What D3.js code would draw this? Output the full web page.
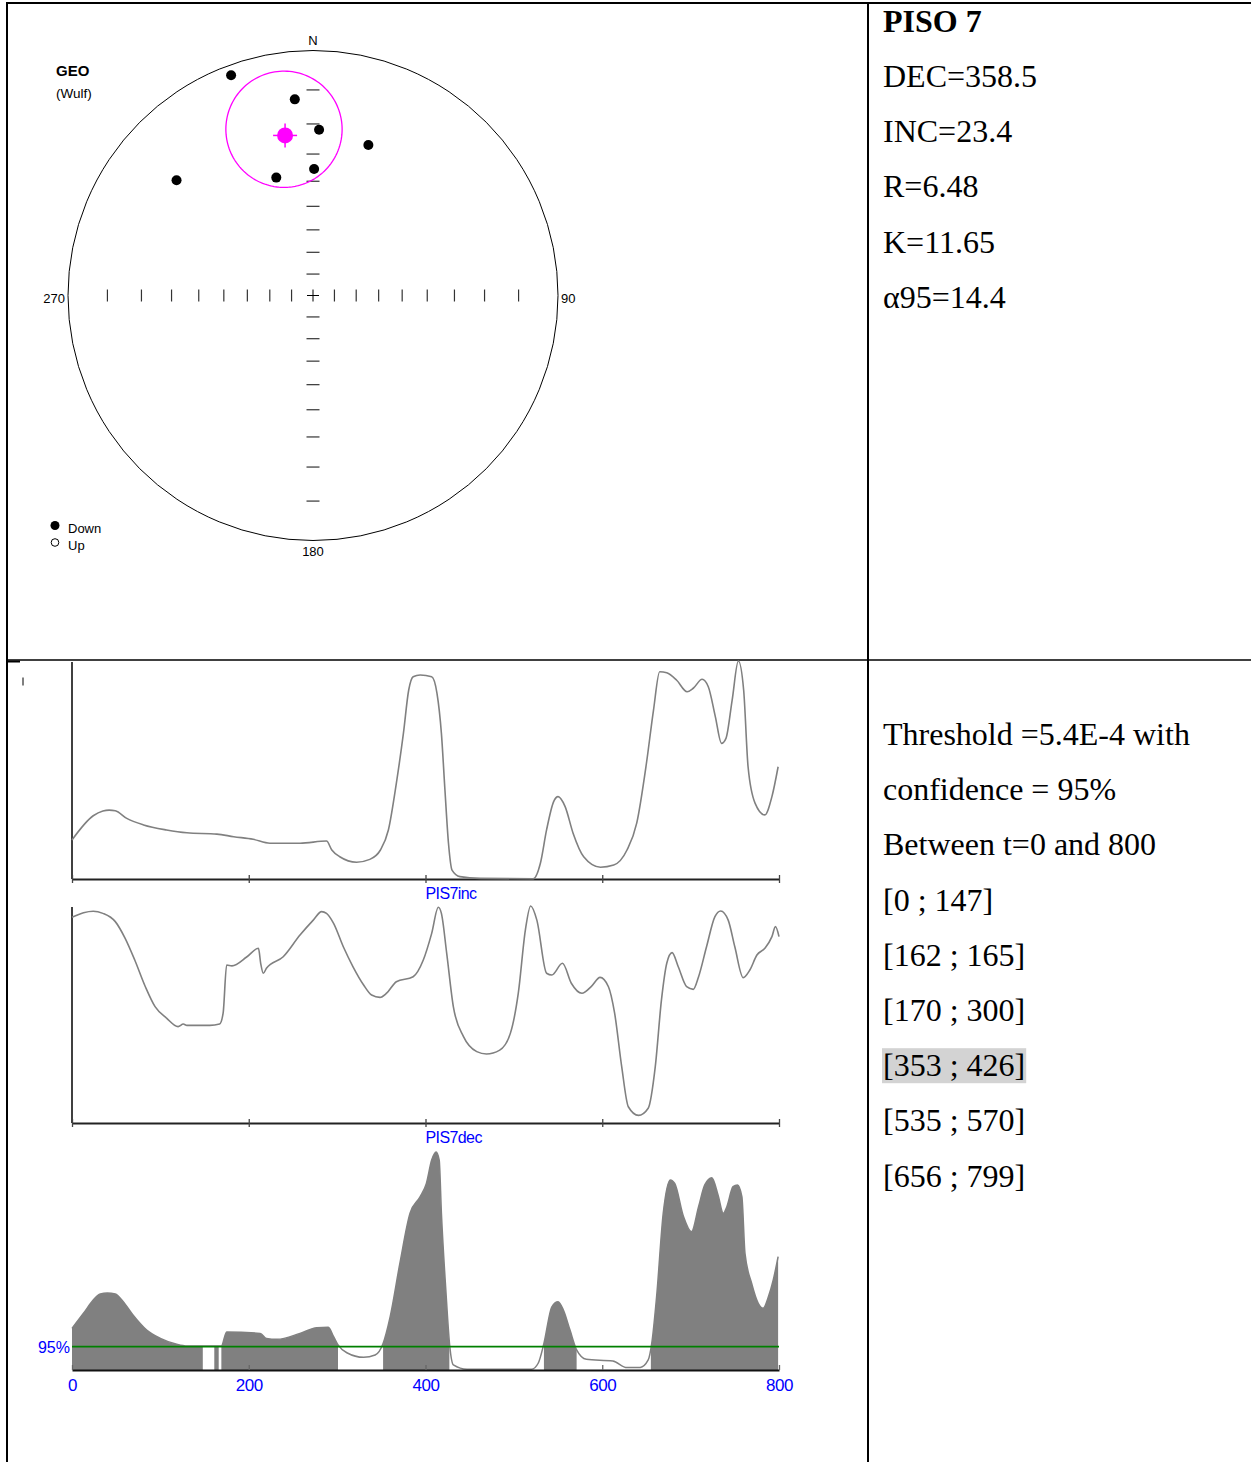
<!DOCTYPE html>
<html><head><meta charset="utf-8">
<script src="https://cdn.jsdelivr.net/npm/d3@7"></script>
<style>body{margin:0;background:#fff}svg{display:block}</style>
</head><body>
<svg id="chart" width="1251" height="1462"></svg>
<script>
// ---------------- DATA ----------------
const siteTitle = "PISO 7";
const statLines = ["DEC=358.5", "INC=23.4", "R=6.48", "K=11.65", "\u03b195=14.4"];
const thresholdLines = ["Threshold =5.4E-4 with", "confidence = 95%", "Between t=0 and 800"];
const intervals = [[0,147],[162,165],[170,300],[353,426],[535,570],[656,799]];
const highlightedInterval = 3;

// stereonet directions (declination / inclination, all "Down")
const dirDec = [339.6, 354.7, 2.1, 20.2, 310.2, 342.7, 0.5];
const dirInc = [2.4, 12.4, 21.8, 23.6, 17.8, 36.5, 35.4];
const meanDir = [350.1, 22.9];      // plotted mean
const meanCone = 18.5;              // plotted confidence cone (deg)
const incTicks = [10,20,30,40,50,60,70,80];
const netLabels = ["N", "90", "180", "270"];
const legendLabels = ["Down", "Up"];

// time series (t, value)
const incSeries = [[0,17.9],[24,29.0],[35,31.2],[42,31.6],[49,31.3],[62,27.8],[81,24.8],[107,22.5],[130,21.2],[164,20.6],[183,19.4],[205,18.2],[224,16.4],[258,16.4],[288,17.4],[294,13.3],[303,10.2],[322,7.7],[337,9.0],[349,13.3],[358,22.5],[367,43.9],[375,66.8],[381,86.7],[386,92.8],[394,93.6],[407,92.8],[413,85.2],[418,66.8],[422,40.8],[426,16.4],[430,4.1],[439,1.1],[462,0.3],[522,0.1],[530,7.2],[537,22.5],[545,35.5],[550,37.8],[558,33.2],[567,21.0],[579,10.2],[598,5.4],[613,6.4],[628,13.3],[639,25.6],[650,53.1],[658,77.5],[665,95.1],[673,94.6],[684,91.3],[696,85.9],[703,87.5],[713,91.6],[720,88.2],[728,74.4],[735,62.2],[740,64.5],[747,82.1],[754,100],[760,86.7],[765,51.5],[773,34.7],[784,29.4],[792,37.8],[799,51.5]];
const decSeries = [[0,94.8],[13,96.9],[24,97.6],[35,96.6],[49,92.8],[60,85.2],[71,75.1],[83,62.8],[94,53.6],[107,48.3],[120,44.4],[126,45.6],[130,45.0],[156,45.0],[167,45.6],[171,50.6],[175,72.8],[181,72.4],[198,76.6],[211,80.5],[213.5,73.6],[216.5,69.0],[220,71.3],[239,76.6],[258,86.6],[273,93.5],[282.5,97.4],[288,96.6],[296,92.0],[307,81.2],[318,72.0],[330,63.6],[339,59.0],[348.5,57.9],[356,59.8],[367,65.1],[386,67.4],[397.5,75.1],[407,87.4],[414.5,99.4],[418,96.6],[424,78.2],[431.5,53.6],[443,39.8],[458,32.9],[469,31.8],[484,33.6],[496,41.3],[505,59.8],[513,88.9],[519,100],[526,93.5],[537,69.0],[543,68.2],[555,73.6],[565,64.4],[577,59.8],[588,63.1],[597.5,67.1],[607,62.8],[614,50.6],[622,26.0],[629.5,7.5],[641,3.5],[652,6.8],[660,26.0],[667,56.7],[673,73.6],[679,78.5],[686,72.0],[695.5,62.8],[703,61.6],[709,67.4],[718,81.2],[727.5,95.1],[734,97.7],[742.5,93.5],[750,81.2],[759.5,67.0],[767,70.5],[775,77.4],[784,80.5],[792,85.9],[796,90.5],[800,85.9]];
const probSeries = [[0,19.1],[13,26.0],[24,32.1],[32,34.9],[40,35.3],[49,34.9],[58,31.3],[69,25.2],[84.5,18.3],[100,14.5],[118.5,11.8],[130,11.0],[160,11.0],[169,11.0],[175,17.4],[213,16.8],[220,14.5],[232,14.1],[258,16.8],[277,19.4],[290,19.6],[296,15.3],[301,11.5],[311,7.9],[330,5.8],[343,6.9],[352,12.2],[360,24.4],[371,48.9],[382.5,71.9],[394,79.5],[401,85.6],[407,96.3],[412,100],[415.5,96.3],[418,71.9],[423,36.7],[427.5,10.7],[431.5,2.3],[447,0.3],[520,0.3],[527.5,3.1],[534,12.2],[543,29.0],[550,31.3],[556,27.5],[563.5,18.3],[571,9.2],[582,4.9],[612,4.1],[628,1.1],[643,1.2],[652,4.6],[656,12.2],[661.5,33.6],[669,71.9],[677,87.2],[682,85.6],[692,70.3],[701,63.4],[709,74.9],[716,84.9],[724,88.2],[731,80.3],[737,71.9],[741,74.9],[748,84.1],[753,84.9],[758,79.5],[761.5,53.5],[769,39.8],[776.5,30.6],[782,28.3],[788,33.6],[793.5,41.3],[799,52.0]];
const thresholdLevel = 10.7;
const thresholdLabel = "95%";
const seriesNames = ["PIS7inc", "PIS7dec"];
const xTicks = [0, 200, 400, 600, 800];

// ---------------- DRAW ----------------
const svg = d3.select("#chart");
const SANS = "'Liberation Sans', Arial, sans-serif";
const SERIF = "'Liberation Serif', 'Times New Roman', serif";
svg.append("rect").attr("width",1251).attr("height",1462).attr("fill","#fff");

// table borders
const border = svg.append("g").attr("stroke","#000");
border.append("line").attr("x1",6).attr("x2",1251).attr("y1",3).attr("y2",3).attr("stroke-width",2);
border.append("line").attr("x1",7).attr("x2",7).attr("y1",2).attr("y2",1462).attr("stroke-width",2);
border.append("line").attr("x1",868).attr("x2",868).attr("y1",2).attr("y2",1462).attr("stroke-width",2);
border.append("line").attr("x1",7).attr("x2",1251).attr("y1",660).attr("y2",660).attr("stroke-width",1.5);
border.append("line").attr("x1",8).attr("x2",20).attr("y1",661.5).attr("y2",661.5).attr("stroke-width",2);
border.append("line").attr("x1",23).attr("x2",23).attr("y1",677.5).attr("y2",685.5).attr("stroke-width",1);

// ---------- stereonet ----------
const cx = 313, cy = 295.5, R = 245;
const rad = Math.PI/180;
const radial = d3.scaleLinear().domain([0,1]).range([0,R]);
function proj(dec, inc){
  const r = radial(Math.tan((90-Math.abs(inc))/2*rad));
  return [cx + r*Math.sin(dec*rad), cy - r*Math.cos(dec*rad)];
}
const net = svg.append("g");
net.append("circle").attr("cx",cx).attr("cy",cy).attr("r",radial(1))
  .attr("fill","none").attr("stroke","#000").attr("stroke-width",1);
[0,90,180,270].forEach(az=>{
  incTicks.forEach(inc=>{
    const [px,py] = proj(az, inc);
    if(az===0||az===180){
      net.append("line").attr("x1",px-6.5).attr("x2",px+6.5).attr("y1",py).attr("y2",py)
        .attr("stroke","#333").attr("stroke-width",1.2);
    } else {
      net.append("line").attr("x1",px).attr("x2",px).attr("y1",py-6).attr("y2",py+6)
        .attr("stroke","#333").attr("stroke-width",1.2);
    }
  });
});
net.append("line").attr("x1",cx-6).attr("x2",cx+6).attr("y1",cy).attr("y2",cy).attr("stroke","#000");
net.append("line").attr("x1",cx).attr("x2",cx).attr("y1",cy-6).attr("y2",cy+6).attr("stroke","#000");

const lab = net.append("g").attr("font-family",SANS).attr("font-size",13).attr("fill","#000");
lab.append("text").attr("x",cx).attr("y",cy-radial(1)-6).attr("text-anchor","middle").text(netLabels[0]);
lab.append("text").attr("x",cx+radial(1)+3).attr("y",cy+7).text(netLabels[1]);
lab.append("text").attr("x",cx).attr("y",cy+radial(1)+15.5).attr("text-anchor","middle").text(netLabels[2]);
lab.append("text").attr("x",cx-radial(1)-3).attr("y",cy+7).attr("text-anchor","end").text(netLabels[3]);
lab.append("text").attr("x",56).attr("y",75.5).attr("font-weight","bold").attr("font-size",15).text("GEO");
lab.append("text").attr("x",56).attr("y",98).attr("font-size",13.5).text("(Wulf)");
lab.append("circle").attr("cx",55).attr("cy",525.5).attr("r",4.5).attr("fill","#000");
lab.append("circle").attr("cx",55).attr("cy",542.5).attr("r",3.8).attr("fill","#fff").attr("stroke","#000");
lab.append("text").attr("x",68).attr("y",533).text(legendLabels[0]);
lab.append("text").attr("x",68).attr("y",550).text(legendLabels[1]);

const cone = d3.geoCircle().center(meanDir).radius(meanCone).precision(2)();
const conePts = cone.coordinates[0].map(c=>proj(c[0], c[1]));
net.append("path").attr("d", d3.line().curve(d3.curveLinearClosed)(conePts))
  .attr("fill","none").attr("stroke","#ff00ff").attr("stroke-width",1.3);
net.selectAll("circle.dir").data(dirDec.map((d,i)=>proj(d, dirInc[i]))).join("circle")
  .attr("class","dir").attr("cx",d=>d[0]).attr("cy",d=>d[1]).attr("r",5).attr("fill","#000");
const mp = proj(meanDir[0], meanDir[1]);
net.append("circle").attr("cx",mp[0]).attr("cy",mp[1]).attr("r",8).attr("fill","#ff00ff");
net.append("line").attr("x1",mp[0]-12).attr("x2",mp[0]+12).attr("y1",mp[1]).attr("y2",mp[1]).attr("stroke","#ff00ff").attr("stroke-width",1.5);
net.append("line").attr("x1",mp[0]).attr("x2",mp[0]).attr("y1",mp[1]-12).attr("y2",mp[1]+12).attr("stroke","#ff00ff").attr("stroke-width",1.5);

// ---------- right text panel ----------
const tp = svg.append("g").attr("font-family",SERIF).attr("font-size",32).attr("fill","#000");
tp.append("text").attr("x",883).attr("y",32).attr("font-weight","bold").text(siteTitle);
statLines.forEach((s,i)=>tp.append("text").attr("x",883).attr("y",87+i*55.2).text(s));
const lowerLines = thresholdLines.concat(intervals.map(iv=>`[${iv[0]} ; ${iv[1]}]`));
lowerLines.forEach((s,i)=>{
  const t = tp.append("text").attr("x",883).attr("y",745+i*55.2).text(s);
  if(i === thresholdLines.length + highlightedInterval){
    const bb = t.node().getBBox();
    tp.insert("rect","text").attr("x",bb.x-1).attr("y",bb.y+1).attr("width",bb.width+2).attr("height",bb.height-1).attr("fill","#d3d3d3");
  }
});

// ---------- time series panels ----------
const x = d3.scaleLinear().domain([0,800]).range([72,779]);
const y1 = d3.scaleLinear().domain([0,100]).range([879,661]);
const y2 = d3.scaleLinear().domain([0,100]).range([1123,906]);
const y3 = d3.scaleLinear().domain([0,100]).range([1370,1152]);
const blue = "#0000ff";

function seriesPanel(series, y, name){
  const g = svg.append("g");
  g.append("line").attr("x1",x(0)).attr("x2",x(0)).attr("y1",y(100)+1).attr("y2",y(0))
    .attr("stroke","#000").attr("stroke-width",1.5);
  const ax = g.append("g").attr("transform",`translate(0,${y(0)})`)
    .call(d3.axisBottom(x).tickValues(xTicks).tickSizeInner(4).tickSizeOuter(0).tickFormat(""));
  ax.select(".domain").attr("stroke","#222").attr("stroke-width",2);
  ax.selectAll(".tick line").attr("y1",-4).attr("stroke","#444").attr("stroke-width",1.3);
  g.append("path").datum(series)
    .attr("d", d3.line().x(d=>x(d[0])).y(d=>y(Math.min(d[1],100))).curve(d3.curveMonotoneX))
    .attr("fill","none").attr("stroke","#808080").attr("stroke-width",1.6);
  g.append("text").attr("x",x(400)).attr("y",y(0)+20).attr("font-family",SANS)
    .attr("font-size",16).attr("letter-spacing",-0.6).attr("fill",blue).text(name);
}
seriesPanel(incSeries, y1, seriesNames[0]);
seriesPanel(decSeries, y2, seriesNames[1]);

const p3 = svg.append("g");
const clip = svg.append("defs").append("clipPath").attr("id","ivclip");
intervals.forEach(iv=>{
  const a = Math.max(0, iv[0]-1), b = Math.min(800, iv[1]+1);
  clip.append("rect").attr("x",x(a)).attr("width",x(b)-x(a)).attr("y",y3(100)-20).attr("height",y3(0)-y3(100)+20);
});
p3.append("path").datum(probSeries)
  .attr("d", d3.area().x(d=>x(d[0])).y0(y3(0)).y1(d=>y3(d[1])).curve(d3.curveMonotoneX))
  .attr("fill","#808080").attr("clip-path","url(#ivclip)");
p3.append("path").datum(probSeries)
  .attr("d", d3.line().x(d=>x(d[0])).y(d=>y3(d[1])).curve(d3.curveMonotoneX))
  .attr("fill","none").attr("stroke","#808080").attr("stroke-width",1.5);
p3.append("line").attr("x1",x(0)).attr("x2",x(800)).attr("y1",y3(thresholdLevel)).attr("y2",y3(thresholdLevel))
  .attr("stroke","#008000").attr("stroke-width",1.8);
const ax3 = p3.append("g").attr("transform",`translate(0,${y3(0)})`)
  .call(d3.axisBottom(x).tickValues(xTicks).tickSizeInner(-5).tickSizeOuter(0).tickPadding(9));
ax3.select(".domain").attr("stroke","#111").attr("stroke-width",2);
ax3.selectAll(".tick line").attr("stroke","#666").attr("stroke-width",1.3);
ax3.selectAll(".tick text").attr("fill",blue).attr("font-family",SANS).attr("font-size",17).attr("letter-spacing",-0.5);
p3.append("text").attr("x",70).attr("y",y3(thresholdLevel)+6).attr("text-anchor","end")
  .attr("font-family",SANS).attr("font-size",16).attr("fill",blue).text(thresholdLabel);
</script>
</body></html>
